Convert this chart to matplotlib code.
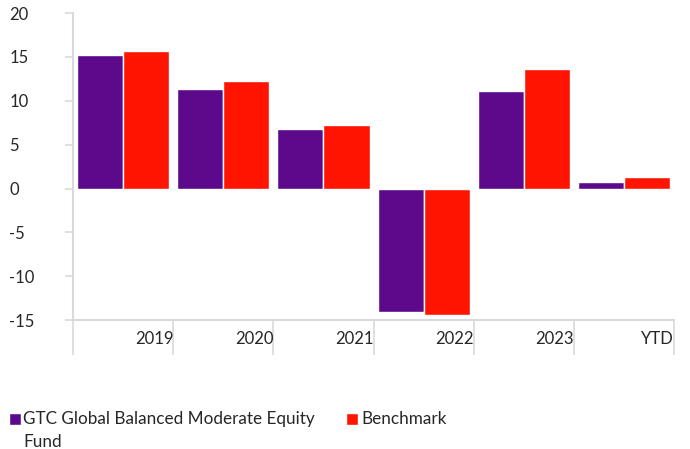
import numpy as np
import matplotlib.pyplot as plt

categories = ['2019', '2020', '2021', '2022', '2023', 'YTD']
fund = [15.2, 11.3, 6.8, -14.1, 11.1, 0.7]
benchmark = [15.7, 12.2, 7.2, -14.4, 13.6, 1.3]
fund_name = 'GTC Global Balanced Moderate Equity\nFund'
bench_name = 'Benchmark'

plt.rcParams['font.family'] = ['Lato', 'DejaVu Sans']
plt.rcParams['font.size'] = 12
plt.rcParams['axes.unicode_minus'] = False
text_color = '#262626'
grid_color = '#d9d9d9'
dpi = 100

fig = plt.figure(figsize=(6.9, 4.49), dpi=dpi)
ax = fig.add_axes([0.1058, 0.287, 0.977 - 0.1058, 0.971 - 0.287])

x = np.arange(len(categories))
w = 0.46
ax.bar(x - 0.23, fund, w, color='#5c0a8b', edgecolor='white', linewidth=1, label=fund_name)
ax.bar(x + 0.23, benchmark, w, color='#ff1400', edgecolor='white', linewidth=1, label=bench_name)

ax.set_xlim(-0.5, len(categories) - 0.5)
ax.set_ylim(-15, 20)
ax.set_yticks(range(-15, 21, 5))

# category boundaries carry the tick marks, labels sit right-aligned to them
ax.set_xticks(np.arange(len(categories) + 1) - 0.5)
ax.set_xticklabels([''] + categories, ha='right', color=text_color)
ax.tick_params(axis='x', length=25, width=1.2, color=grid_color, pad=-17)

ax.tick_params(axis='y', length=6, width=1.2, color=grid_color, pad=40, labelcolor=text_color)
for lbl in ax.get_yticklabels():
    lbl.set_horizontalalignment('left')

for s in ['top', 'right']:
    ax.spines[s].set_visible(False)
for s in ['left', 'bottom']:
    ax.spines[s].set_color(grid_color)
    ax.spines[s].set_linewidth(1.5)

fs = 12.3
leg = fig.legend(loc='upper left', bbox_to_anchor=(0.005, 0.097), ncol=2, frameon=False,
                 handlelength=0.7, handleheight=0.7, handletextpad=0.15, columnspacing=1.85,
                 labelcolor=text_color, borderaxespad=0, borderpad=0.3, prop={'size': fs})
for t in leg.get_texts():
    t.set_linespacing(1.55)

# align keys and the one-line label with the first line of the wrapped label
fig.canvas.draw()
r = fig.canvas.get_renderer()
t0, t1 = leg.get_texts()
b0 = t0.get_window_extent(r)
b1 = t1.get_window_extent(r)
first_center = b0.y1 - b1.height / 2
t1.set_y(first_center - (b1.y0 + b1.y1) / 2)
for h in leg.legend_handles:
    hb = h.get_window_extent(r)
    dy = first_center - (hb.y0 + hb.y1) / 2
    h.set_y(h.get_y() + dy * 72 / dpi)

fig.savefig('out.png', dpi=dpi)
